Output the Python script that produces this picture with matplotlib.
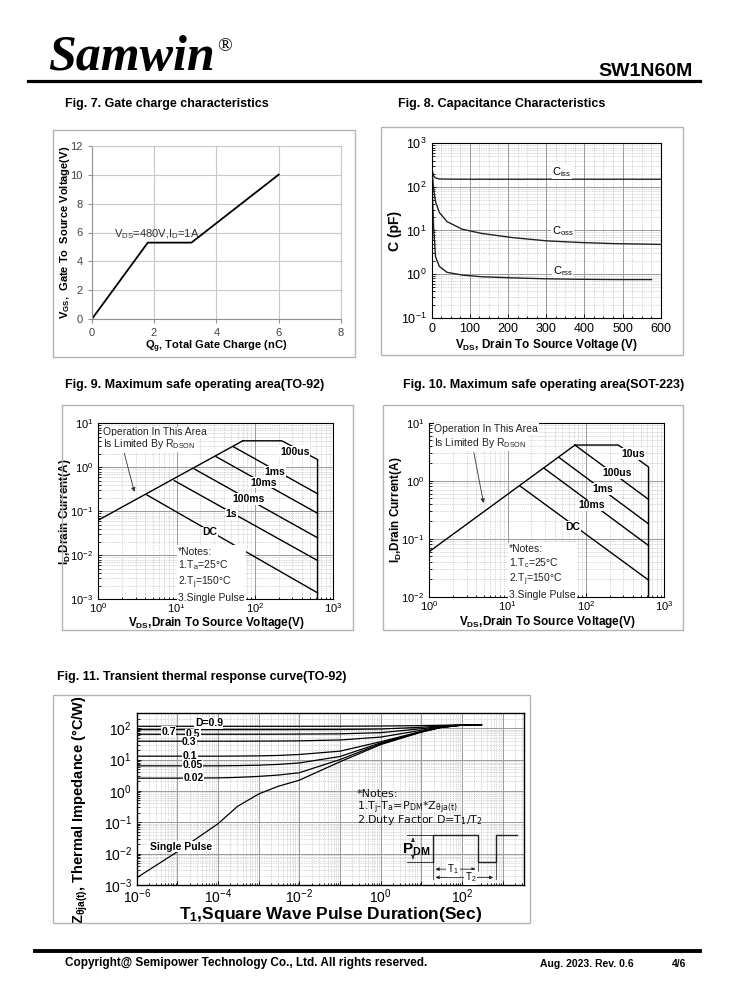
import numpy as np
import matplotlib
matplotlib.use('Agg')
import matplotlib.pyplot as plt
from matplotlib import font_manager
from matplotlib.patches import Rectangle
from matplotlib.lines import Line2D
from matplotlib.ticker import FixedLocator, MultipleLocator, NullFormatter, FuncFormatter, LogLocator

# ---- Fig. 7 gate charge ----
qg = [0, 1.8, 3.2, 6.0]
vgs = [0, 5.3, 5.3, 10.0]

# ---- Fig. 8 capacitance ----
vds_c = [0, 2, 5, 10, 20, 40, 80, 130, 210, 300, 390, 480, 600]
ciss = [300, 230, 180, 160, 152, 151, 150, 150, 150, 150, 150, 150, 150]
coss = [280, 190, 90, 46, 26, 16, 10.7, 8.6, 6.9, 5.8, 5.3, 5.0, 4.8]
crss = [150, 60, 12, 2.5, 1.5, 1.1, 0.95, 0.87, 0.82, 0.78, 0.76, 0.75, 0.75]

# ---- Fig. 9 SOA TO-92 ----
soa9_rds_v = [1, 70]
soa9_rds_i = [0.063, 4.0]
soa9_top_v = [70, 220, 630, 630]
soa9_top_i = [4.0, 4.0, 1.5, 0.001]
soa9_lines = {                     # name: (v_start, i_start, v_end, i_end)
    '1ms': (52.8, 2.95, 630, 0.25),
    '10ms': (31.8, 1.75, 630, 0.09),
    '100ms': (16.8, 0.917, 630, 0.025),
    '1s': (9.34, 0.497, 630, 0.0076),
    'DC': (4.18, 0.235, 630, 0.0014),
}
soa9_labels = {'100us': (324, 2.27), '1ms': (180, 0.8), '10ms': (128, 0.45),
               '100ms': (82, 0.19), '1s': (50, 0.085), 'DC': (26.7, 0.033)}

# ---- Fig. 10 SOA SOT-223 ----
soa10_rds_v = [1, 72.4]
soa10_rds_i = [0.06, 4.12]
soa10_top_v = [72.4, 259, 630, 630]
soa10_top_i = [4.12, 4.12, 1.72, 0.01]
soa10_lines = {
    '100us': (72.4, 4.12, 630, 0.475),
    '1ms': (45.2, 2.52, 630, 0.18),
    '10ms': (29.4, 1.63, 630, 0.076),
    'DC': (14.4, 0.81, 630, 0.0193),
}
soa10_labels = {'10us': (402, 2.85), '100us': (246, 1.34), '1ms': (166, 0.71),
                '10ms': (118, 0.376), 'DC': (67, 0.161)}

# ---- Fig. 11 transient thermal ----
t_p = [1e-6, 1e-5, 1e-4, 3e-4, 1e-3, 3e-3, 1e-2, 1e-1, 1, 10, 30, 100, 300]
z_single = [0.0017, 0.0115, 0.09, 0.32, 0.8, 1.4, 2.2, 8.5, 30, 75, 105, 125, 128]
z_duty = {
    '0.02': [2.55, 2.55, 2.6, 2.7, 2.9, 3.2, 3.8, 10, 32, 76, 105, 125, 128],
    '0.05': [6.3, 6.3, 6.3, 6.4, 6.6, 7.0, 7.8, 12.5, 34, 77, 106, 125, 128],
    '0.1': [12.8, 12.8, 12.8, 12.9, 13.1, 13.5, 14.5, 18.5, 37, 79, 107, 125, 128],
    '0.3': [38.5, 38.5, 38.5, 38.5, 38.7, 39, 39.5, 42, 52, 86, 110, 126, 128],
    '0.5': [64, 64, 64, 64, 64, 64.3, 64.7, 66, 72, 96, 114, 126, 128],
    '0.7': [90, 90, 90, 90, 90, 90, 90.3, 91, 94, 107, 118, 127, 128],
    '0.9': [115, 115, 115, 115, 115, 115, 115, 115.5, 117, 121, 124, 127, 128],
}
duty_labels = {'D=0.9': (2.7e-5, 144), '0.7': (4e-6, 78), '0.5': (1.6e-5, 64),
               '0.3': (1.3e-5, 37.5), '0.1': (1.35e-5, 13.4),
               '0.05': (1.35e-5, 6.8), '0.02': (1.4e-5, 2.66)}

W, H = 738, 1000
names = {f.name for f in font_manager.fontManager.ttflist}
NARROW = 'Liberation Sans Narrow' if 'Liberation Sans Narrow' in names else 'Liberation Sans'

plt.rcParams['font.family'] = ['Liberation Sans', 'DejaVu Sans']
plt.rcParams['mathtext.fontset'] = 'custom'
plt.rcParams['mathtext.rm'] = 'Liberation Sans'
plt.rcParams['mathtext.bf'] = 'Liberation Sans:bold'
plt.rcParams['mathtext.it'] = 'Liberation Sans:italic'
plt.rcParams['mathtext.default'] = 'regular'
plt.rcParams['axes.linewidth'] = 0.8

fig = plt.figure(figsize=(W / 100, H / 100), dpi=100)


def add_ax(x0, y0, x1, y1):
    return fig.add_axes([x0 / W, 1 - y1 / H, (x1 - x0) / W, (y1 - y0) / H])


def ftext(x, y, s, **kw):
    fig.text(x / W, 1 - y / H, s, **kw)


def panel(x0, y0, x1, y1):
    fig.add_artist(Rectangle((x0 / W, 1 - y1 / H), (x1 - x0) / W, (y1 - y0) / H,
                             transform=fig.transFigure, fill=False,
                             edgecolor='#b4b4b4', lw=1.0))


def hline(x0, x1, y, lw):
    fig.add_artist(Line2D([x0 / W, x1 / W], [1 - y / H] * 2, color='black', lw=lw))


def label_at(ax, xpx, ypx, ylab_y=None):
    # put the centres of the axis labels at page pixel positions
    x0, y0, w, h = ax.get_position().bounds
    ax.yaxis.label.set_va('center')
    ax.xaxis.label.set_va('center')
    yy = 0.5 if ylab_y is None else ((1 - ylab_y / H) - y0) / h
    ax.yaxis.set_label_coords((xpx / W - x0) / w, yy)
    ax.xaxis.set_label_coords(0.5, ((1 - ypx / H) - y0) / h)


def log_grid(ax):
    ax.grid(which='major', color='#999999', lw=0.7, ls='-')
    ax.grid(which='minor', color='#b0b0b0', lw=0.5, ls=(0, (1, 1.5)))
    ax.tick_params(which='both', direction='in', length=3, width=0.6)
    ax.tick_params(which='minor', length=1.8)


white = dict(facecolor='white', edgecolor='none', pad=0.6)

# ---- header / footer ----
ftext(48, 70, 'Samwin', family='Liberation Serif', weight='bold', style='italic',
      fontsize=36, va='baseline')
ftext(217, 51, '®', family='Liberation Serif', fontsize=14, va='baseline')
ftext(693, 76, 'SW1N60M', family=NARROW, weight='bold', fontsize=14, ha='right', va='baseline')
hline(28, 700, 80.5, 2.3)
hline(35, 700, 951, 2.8)
ftext(65, 963, 'Copyright@ Semipower Technology Co., Ltd. All rights reserved.',
      family=NARROW, weight='bold', fontsize=8.5, va='center')
ftext(540, 964, 'Aug. 2023. Rev. 0.6', family=NARROW, weight='bold', fontsize=7.5, va='center')
ftext(672, 964, '4/6', family=NARROW, weight='bold', fontsize=7.5, va='center')

# ---- titles ----
tkw = dict(family=NARROW, weight='bold', fontsize=9, va='center')
ftext(65, 104, 'Fig. 7. Gate charge characteristics', **tkw)
ftext(398, 104, 'Fig. 8. Capacitance Characteristics', **tkw)
ftext(65, 385, 'Fig. 9. Maximum safe operating area(TO-92)', **tkw)
ftext(403, 385, 'Fig. 10. Maximum safe operating area(SOT-223)', **tkw)
ftext(57, 677, 'Fig. 11. Transient thermal response curve(TO-92)', **tkw)

panel(53, 130, 355, 357)
panel(381, 127, 683, 355)
panel(62, 405, 353, 630)
panel(383, 405, 683, 630)
panel(53, 695, 530, 923)

# ---- Fig. 7 ----
ax7 = add_ax(91.7, 145.7, 341, 319.3)
ax7.plot(qg, vgs, color='black', lw=1.3, solid_joinstyle='miter')
ax7.set_xlim(0, 8)
ax7.set_ylim(0, 12)
ax7.xaxis.set_major_locator(MultipleLocator(2))
ax7.yaxis.set_major_locator(MultipleLocator(2))
ax7.grid(color='#c8c8c8', lw=0.8)
for s in ax7.spines.values():
    s.set_color('#c8c8c8')
ax7.spines['left'].set_color('#909090')
ax7.spines['bottom'].set_color('#909090')
ax7.tick_params(labelsize=8, labelcolor='#444444', color='#909090', length=3)
ax7.text(0.72, 5.85, 'V$_{DS}$=480V,I$_D$=1A', fontsize=8, color='#333333', va='center')
ax7.set_xlabel('Q$_g$, Total Gate Charge (nC)', fontsize=8, weight='bold')
ax7.set_ylabel('V$_{GS}$,  Gate To  Source Voltage(V)', fontsize=8, weight='bold')
label_at(ax7, 65, 347)

# ---- Fig. 8 ----
ax8 = add_ax(431.7, 143.3, 660.7, 317.7)
ax8.set_yscale('log')
ax8.plot(vds_c, ciss, color='#222222', lw=1.0)
ax8.plot(vds_c, coss, color='#222222', lw=1.0)
ax8.plot(vds_c[:-1] + [576], crss, color='#222222', lw=1.0)
ax8.set_xlim(0, 600)
ax8.set_ylim(0.1, 1000)
ax8.xaxis.set_major_locator(MultipleLocator(100))
ax8.xaxis.set_minor_locator(MultipleLocator(25))
ax8.yaxis.set_minor_formatter(NullFormatter())
log_grid(ax8)
ax8.tick_params(labelsize=9)
ckw = dict(fontsize=8, va='center', bbox=dict(facecolor='white', edgecolor='none', pad=0.2))
ax8.text(315, 220, 'C$_{iss}$', **ckw)
ax8.text(314, 9.6, 'C$_{oss}$', **ckw)
ax8.text(317, 1.2, 'C$_{rss}$', **ckw)
ax8.set_xlabel('V$_{DS}$, Drain To Source Voltage (V)', fontsize=8.5, weight='bold')
ax8.set_ylabel('C (pF)', fontsize=10, weight='bold')
label_at(ax8, 395, 345)


# ---- Fig. 9 / Fig. 10 ----
def soa(ax, rds_v, rds_i, top_v, top_i, lines, labels, ylim, texts_y, arrow, notes_top, note_ta):
    ax.set_xscale('log')
    ax.set_yscale('log')
    ax.plot(rds_v, rds_i, color='black', lw=1.0)
    ax.plot(top_v, top_i, color='black', lw=1.0)
    for v0, i0, v1, i1 in lines.values():
        ax.plot([v0, v1], [i0, i1], color='black', lw=1.0)
    for name, (x, y) in labels.items():
        ax.text(x, y, name, fontsize=7.5, weight='bold', ha='center', va='center', bbox=white)
    ax.set_xlim(1, 1000)
    ax.set_ylim(*ylim)
    ax.xaxis.set_minor_formatter(NullFormatter())
    ax.yaxis.set_minor_formatter(NullFormatter())
    log_grid(ax)
    ax.tick_params(labelsize=8)
    ax.tick_params(axis='x', pad=1.5)
    ax.text(1.16, texts_y[0], 'Operation In This Area', fontsize=7.5, va='center',
            color='#222222', bbox=white)
    ax.text(1.16, texts_y[1], 'Is Limited By R$_{DSON}$', fontsize=7.5, va='center',
            color='#222222', bbox=white)
    ax.annotate('', xy=arrow[1], xytext=arrow[0],
                arrowprops=dict(arrowstyle='-|>', color='#333333', lw=0.6, mutation_scale=6))
    ax.text(10.5, notes_top, '*Notes:\n1.T$_%s$=25°C\n2.T$_j$=150°C\n3.Single Pulse' % note_ta,
            fontsize=7.5, va='top', linespacing=1.2, color='#222222',
            bbox=dict(facecolor='white', edgecolor='none', pad=1))
    ax.set_xlabel('V$_{DS}$,Drain To Source Voltage(V)', fontsize=8.5, weight='bold')
    ax.set_ylabel('I$_D$,Drain Current(A)', fontsize=8.5, weight='bold')


ax9 = add_ax(98.3, 423.3, 333.3, 599.3)
soa(ax9, soa9_rds_v, soa9_rds_i, soa9_top_v, soa9_top_i, soa9_lines, soa9_labels,
    (1e-3, 10), (6.2, 3.4), ((2.1, 2.4), (2.95, 0.24)), 0.0157, 'a')
label_at(ax9, 65, 623)

ax10 = add_ax(429.3, 422.7, 664.3, 596.7)
soa(ax10, soa10_rds_v, soa10_rds_i, soa10_top_v, soa10_top_i, soa10_lines, soa10_labels,
    (1e-2, 10), (7.7, 4.5), ((3.65, 3.4), (5.0, 0.37)), 0.081, 'c')
label_at(ax10, 396, 622)

# ---- Fig. 11 ----
ax11 = add_ax(136.7, 712.5, 524.3, 885)
ax11.set_xscale('log')
ax11.set_yscale('log')
ax11.plot(t_p, z_single, color='black', lw=0.9)
for d, z in z_duty.items():
    ax11.plot(t_p, z, color='black', lw=0.9)
ax11.set_xlim(1e-6, 10 ** 3.53)
ax11.set_ylim(1e-3, 10 ** 2.5)
ax11.xaxis.set_major_locator(FixedLocator([10.0 ** k for k in range(-6, 4)]))
ax11.xaxis.set_major_formatter(FuncFormatter(
    lambda v, p: '$10^{%d}$' % round(np.log10(v)) if round(np.log10(v)) % 2 == 0 else ''))
ax11.xaxis.set_minor_locator(LogLocator(base=10, subs=np.arange(2, 10), numticks=20))
ax11.xaxis.set_minor_formatter(NullFormatter())
ax11.yaxis.set_minor_formatter(NullFormatter())
log_grid(ax11)
for s in ax11.spines.values():
    s.set_linewidth(1.0)
ax11.tick_params(labelsize=10)
ax11.tick_params(axis='x', pad=1.5)
for name, (x, y) in duty_labels.items():
    ax11.text(x, y, name, fontsize=7.5, weight='bold', va='center',
              bbox=dict(facecolor='white', edgecolor='none', pad=0.3))
ax11.text(2.1e-6, 0.0167, 'Single Pulse', fontsize=7.5, weight='bold', va='center', bbox=white)
nkw = dict(fontsize=8, va='center', color='#111111', family=['DejaVu Sans'])
ax11.text(0.257, 0.8, '*Notes:', **nkw)
ax11.text(0.257, 0.30, '1.T$_j$-T$_a$=P$_{DM}$*Z$_{θja(t)}$', **nkw)
ax11.text(0.257, 0.115, '2.Duty Factor D=T$_1$/T$_2$', **nkw)

# pulse sketch
lo, hi = 0.0055, 0.039
ax11.plot([19, 19, 251, 251, 680, 680, 2200], [lo, hi, hi, lo, lo, hi, hi], color='#222222', lw=1.0)
ax11.plot([4.5, 19], [hi, hi], color='#222222', lw=0.6)
ax11.plot([4.5, 19], [lo, lo], color='#222222', lw=0.6)
ax11.annotate('', xy=(6.2, hi), xytext=(6.2, 0.024),
              arrowprops=dict(arrowstyle='-|>', color='#222222', lw=0.6, mutation_scale=5))
ax11.annotate('', xy=(6.2, lo), xytext=(6.2, 0.0085),
              arrowprops=dict(arrowstyle='-|>', color='#222222', lw=0.6, mutation_scale=5))
ax11.text(7.5, 0.0135, 'P$_{DM}$', fontsize=11, weight='bold', ha='center', va='center')
ax11.plot([19, 19], [lo, 0.0015], color='#222222', lw=0.5)
ax11.plot([251, 251], [lo, 0.0028], color='#222222', lw=0.5)
ax11.plot([680, 680], [lo, 0.0015], color='#222222', lw=0.5)
ax11.annotate('', xy=(19, 0.0032), xytext=(251, 0.0032),
              arrowprops=dict(arrowstyle='<|-|>', color='#222222', lw=0.6, mutation_scale=5))
ax11.annotate('', xy=(19, 0.00175), xytext=(680, 0.00175),
              arrowprops=dict(arrowstyle='<|-|>', color='#222222', lw=0.6, mutation_scale=5))
ax11.text(60, 0.0032, 'T$_1$', fontsize=7, ha='center', va='center', bbox=white)
ax11.text(160, 0.00175, 'T$_2$', fontsize=7, ha='center', va='center', bbox=white)

ax11.set_xlabel('T$_1$,Square Wave Pulse Duration(Sec)', fontsize=12.5, weight='bold')
ax11.set_ylabel('Z$_{θja(t)}$, Thermal Impedance (°C/W)', fontsize=10.5, weight='bold')
label_at(ax11, 80, 914, ylab_y=810)

fig.savefig('out.png', dpi=100)
